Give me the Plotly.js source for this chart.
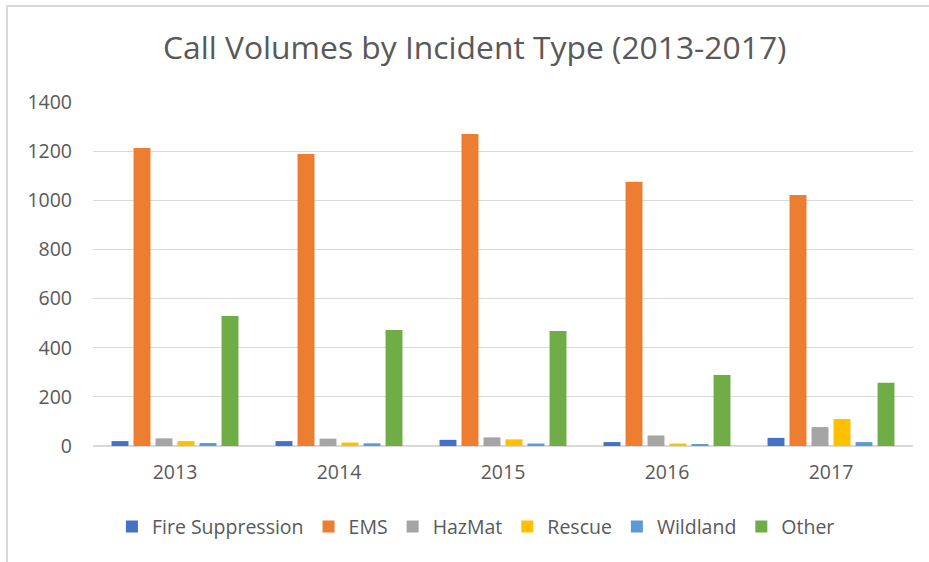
<!DOCTYPE html>
<html>
<head>
<meta charset="utf-8">
<script src="https://cdn.plot.ly/plotly-3.0.1.min.js"></script>
<style>
  html, body { margin: 0; padding: 0; background: #ffffff; }
  #chart { width: 929px; height: 562px; position: relative; }
  #frame {
    position: absolute; top: 5px; left: 6px; right: 0; bottom: 0;
    border-top: 2px solid #d9d9d9; border-left: 2px solid #d9d9d9;
    pointer-events: none;
  }
</style>
</head>
<body>
<div id="chart"></div>
<div id="frame"></div>
<script>
// Annual call counts per incident type
const years = ["2013", "2014", "2015", "2016", "2017"];
const fireSuppression = [20, 20, 25, 16, 33];
const ems = [1213, 1188, 1270, 1075, 1022];
const hazMat = [31, 30, 35, 43, 77];
const rescue = [20, 14, 27, 10, 110];
const wildland = [12, 11, 10, 8, 16];
const other = [529, 472, 468, 289, 257];

const seriesNames = ["Fire Suppression", "EMS", "HazMat", "Rescue", "Wildland", "Other"];
const seriesValues = [fireSuppression, ems, hazMat, rescue, wildland, other];
const seriesColors = ["#4472C4", "#ED7D31", "#A5A5A5", "#FFC000", "#5B9BD5", "#70AD47"];

const textColor = "#595959";
const font = "'Open Sans', 'Noto Sans', sans-serif";

const traces = seriesNames.map((name, i) => ({
  type: "bar",
  name: name,
  x: years,
  y: seriesValues[i],
  marker: { color: seriesColors[i] },
  hoverinfo: "x+y+name"
}));

const layout = {
  width: 929,
  height: 562,
  margin: { l: 93, r: 16, t: 102, b: 116, autoexpand: false },
  paper_bgcolor: "#ffffff",
  plot_bgcolor: "#ffffff",
  font: { family: font, color: textColor, size: 19.5 },
  title: {
    text: "Call Volumes by Incident Type (2013-2017)",
    font: { family: font, size: 31.8, color: textColor },
    x: 0.511, xanchor: "center", xref: "container",
    y: 0.915, yanchor: "middle", yref: "container"
  },
  barmode: "group",
  bargap: 0.195,
  bargroupgap: 0.23,
  xaxis: {
    type: "category",
    showgrid: false,
    showline: false,
    ticks: "",
    ticklabelstandoff: 12,
    tickfont: { size: 19.5, color: textColor }
  },
  yaxis: {
    range: [0, 1400],
    dtick: 200,
    tick0: 0,
    showgrid: true,
    gridcolor: "#d9d9d9",
    gridwidth: 1,
    zeroline: true,
    zerolinecolor: "#d9d9d9",
    zerolinewidth: 2,
    showline: false,
    ticks: "",
    ticklabelstandoff: 20,
    tickfont: { size: 19.5, color: textColor }
  },
  showlegend: true,
  legend: {
    orientation: "h",
    x: 0.467, xanchor: "center",
    y: -0.235, yanchor: "middle",
    font: { size: 19.5, color: textColor },
    traceorder: "normal"
  }
};

Plotly.newPlot("chart", traces, layout, { displayModeBar: false, staticPlot: true });
</script>
</body>
</html>
